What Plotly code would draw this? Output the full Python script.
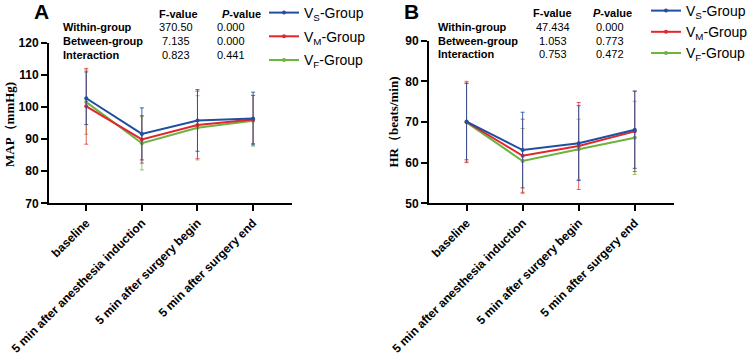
import plotly.graph_objects as go

W, H = 750, 358

categories = ["baseline", "5 min after anesthesia induction",
              "5 min after surgery begin", "5 min after surgery end"]

# Panel A: MAP (mmHg)
map_vs = [102.7, 91.6, 95.8, 96.4]
map_vs_sd = [8.2, 8.1, 9.6, 8.2]
map_vm = [100.2, 89.9, 94.4, 96.1]
map_vm_sd = [11.8, 7.4, 10.5, 7.5]
map_vf = [101.5, 88.7, 93.5, 95.7]
map_vf_sd = [10.0, 8.3, 10.0, 7.9]

# Panel B: HR (beats/min)
hr_vs = [70.1, 63.1, 64.8, 68.1]
hr_vs_sd = [9.4, 9.3, 9.2, 9.5]
hr_vm = [70.0, 61.7, 64.1, 67.7]
hr_vm_sd = [10.0, 9.0, 10.7, 9.9]
hr_vf = [69.9, 60.4, 63.3, 66.1]
hr_vf_sd = [9.7, 8.0, 7.4, 9.0]

stats_rows = ["Within-group", "Between-group", "Interaction"]
stats_a_f = ["370.50", "7.135", "0.823"]
stats_a_p = ["0.000", "0.000", "0.441"]
stats_b_f = ["47.434", "1.053", "0.753"]
stats_b_p = ["0.000", "0.773", "0.472"]

series_names = ["V<sub>S</sub>-Group", "V<sub>M</sub>-Group", "V<sub>F</sub>-Group"]
colors = ["#1f4fa0", "#e3262b", "#6db33f"]
err_colors = ["rgba(31,79,160,0.85)", "rgba(227,38,43,0.75)", "rgba(109,179,63,0.75)"]

SANS = "Liberation Sans, Arial, sans-serif"
SERIF = "Liberation Serif, Times New Roman, serif"


def px(x):
    return x / W


def py(y):
    return 1 - y / H


fig = go.Figure()

panels = [
    ([map_vs, map_vm, map_vf], [map_vs_sd, map_vm_sd, map_vf_sd], "x", "y", "legend"),
    ([hr_vs, hr_vm, hr_vf], [hr_vs_sd, hr_vm_sd, hr_vf_sd], "x2", "y2", "legend2"),
]
xs = list(range(len(categories)))
for means, sds, xa, ya, lg in panels:
    # draw green, red, blue so blue ends on top; legend order by rank
    for i in [2, 1, 0]:
        fig.add_trace(go.Scatter(
            x=xs, y=means[i], mode="lines+markers", name=series_names[i],
            line=dict(color=colors[i], width=2),
            marker=dict(color=colors[i], size=4),
            error_y=dict(type="data", array=sds[i], visible=True,
                         color=err_colors[i], thickness=1, width=2),
            xaxis=xa, yaxis=ya, legend=lg, legendrank=i + 1,
            legendgroup=f"{lg}_{i}",
        ))

axis_common = dict(showgrid=False, zeroline=False, showline=True,
                   linecolor="black", linewidth=2, ticks="outside",
                   ticklen=6, tickwidth=2, tickcolor="black", automargin=False,
                   tickfont=dict(family=SANS, size=12, color="black", weight="bold"))

xaxis_common = dict(axis_common, tickmode="array", tickvals=xs, ticktext=categories,
                    tickangle=-45, range=[-0.67, 3.7])

fig.update_layout(
    width=W, height=H,
    margin=dict(l=0, r=0, t=0, b=0, autoexpand=False),
    paper_bgcolor="white", plot_bgcolor="white",
    showlegend=True,
    xaxis=dict(xaxis_common, domain=[px(49), px(292)], anchor="y"),
    yaxis=dict(axis_common, domain=[py(203.3), py(42.7)], range=[70, 120],
               tickvals=[70, 80, 90, 100, 110, 120], anchor="x"),
    xaxis2=dict(xaxis_common, domain=[px(429), px(674)], anchor="y2"),
    yaxis2=dict(axis_common, domain=[py(203.3), py(40.7)], range=[50, 90],
                tickvals=[50, 60, 70, 80, 90], anchor="x2"),
    legend=dict(x=px(264), y=py(-3), xanchor="left", yanchor="top",
                font=dict(family=SANS, size=14, color="black"),
                traceorder="grouped", tracegroupgap=2.5, bgcolor="rgba(0,0,0,0)"),
    legend2=dict(x=px(646), y=py(-5), xanchor="left", yanchor="top",
                 font=dict(family=SANS, size=14, color="black"),
                 traceorder="grouped", tracegroupgap=0, bgcolor="rgba(0,0,0,0)"),
)

ann = []


def text(x, y, s, size=11, bold=False, xanchor="center", family=SANS, angle=0):
    ann.append(dict(x=px(x), y=py(y), xref="paper", yref="paper", text=s,
                    showarrow=False, xanchor=xanchor, yanchor="middle",
                    textangle=angle,
                    font=dict(family=family, size=size, color="black",
                              weight="bold" if bold else "normal")))


# Panel letters
text(41, 12, "A", size=21, bold=True)
text(411.5, 11.5, "B", size=21, bold=True)

# y-axis titles
text(9, 125, "MAP（mmHg)", size=13, bold=True, family=SERIF, angle=-90)
text(393.5, 122, "HR（beats/min)", size=13, bold=True, family=SERIF, angle=-90)

# stats tables
tables = [
    (61, 178, 241, 176, 231, [14, 27, 41, 55], stats_a_f, stats_a_p),
    (436, 552, 612, 553, 610, [13.3, 26.7, 40.7, 54], stats_b_f, stats_b_p),
]
for lx, fhx, phx, fvx, pvx, ys, fvals, pvals in tables:
    text(fhx, ys[0], "F-value", bold=True)
    text(phx, ys[0], "<i>P</i>-value", bold=True)
    for k in range(3):
        text(lx, ys[k + 1], stats_rows[k], bold=True, xanchor="left")
        text(fvx, ys[k + 1], fvals[k])
        text(pvx, ys[k + 1], pvals[k])

fig.update_layout(annotations=ann)

fig.write_html("out.html", config={"displayModeBar": False},
               post_script="document.body.style.margin='0';")
